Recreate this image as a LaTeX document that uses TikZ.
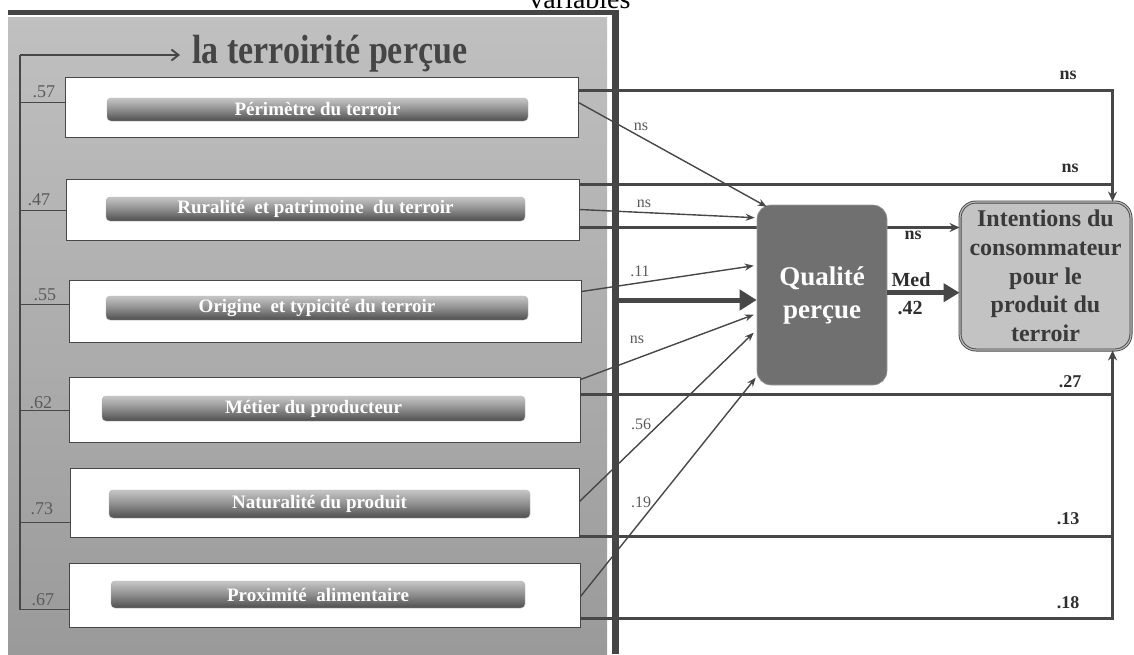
\documentclass[tikz,border=0pt]{standalone}
\usepackage{fontspec}
\setmainfont{Liberation Serif}
\usetikzlibrary{arrows.meta,calc}
\definecolor{frame}{HTML}{454545}
\definecolor{ln}{HTML}{474747}
\definecolor{lab}{HTML}{5A5A5A}
\definecolor{qual}{HTML}{707070}
\definecolor{intent}{HTML}{C3C3C3}
\definecolor{intxt}{HTML}{3A3A3A}
\definecolor{pantop}{HTML}{C0C0C0}
\definecolor{panbot}{HTML}{9A9A9A}
\definecolor{bartop}{HTML}{C6C6C6}
\definecolor{barmid}{HTML}{8E8E8E}
\definecolor{barbot}{HTML}{4E4E4E}
\definecolor{darklab}{HTML}{2E2E2E}
\newcommand{\fsz}[1]{\fontsize{#1}{#1}\selectfont}
\begin{document}
\begin{tikzpicture}[x=1pt,y=-1pt,
  factor/.style={draw=ln, line width=1pt, fill=white, rectangle, inner sep=0pt},
  barbox/.style={rectangle, rounded corners=4pt, top color=bartop, bottom color=barbot, middle color=barmid, draw=gray!60, line width=0.4pt, text=white, font=\bfseries\fsz{19}, inner sep=0pt},
  loadlab/.style={anchor=base west, text=lab, font=\fsz{18}},
  spine/.style={draw=ln, line width=1.9pt},
  conn/.style={draw=ln, line width=2.5pt},
  connarr/.style={conn, -{Stealth[length=10pt,width=9pt]}},
  thinarr/.style={draw=ln, line width=1.4pt, -{Stealth[length=9pt,width=7pt]}},
  bigarr/.style={draw=ln, line width=5pt, -{Triangle[length=17pt,width=20pt]}},
  medarr/.style={draw=ln, line width=5pt, -{Triangle[length=16pt,width=18pt]}},
  boldlab/.style={text=darklab, font=\bfseries\fsz{18}},
  thinlab/.style={text=lab, font=\fsz{16}},
]
\useasboundingbox (0,0) rectangle (1134,654);
\node[anchor=base, font=\fsz{28}] (var) at (580,8) {variables};
% panel
\shade[top color=pantop, bottom color=panbot] (8,17) rectangle (607,654);
\fill[frame] (8,10) rectangle (619,15);
\fill[frame] (612,10) rectangle (619,654);
% title
\node[anchor=base west, text=frame, font=\bfseries\fsz{34}, inner sep=0pt] (title) at (192,63) {\scalebox{1}[1.2]{la terroirité perçue}};
% spine
\coordinate (sp) at (20,55);
\coordinate (spb) at (20,610);
\draw[spine] (spb) -- (sp);
\draw[ln, line width=1.9pt, -{Straight Barb[length=7pt,width=11pt]}] (sp) -- ++(160,0);
% factor boxes
\node[factor, minimum width=513pt, minimum height=60pt] (f1) at (321.5,107) {};
\node[factor, minimum width=513pt, minimum height=61pt] (f2) at (322.5,209.5) {};
\node[factor, minimum width=512pt, minimum height=62pt] (f3) at (325,311) {};
\node[factor, minimum width=511pt, minimum height=65pt] (f4) at (324.5,409.5) {};
\node[factor, minimum width=509pt, minimum height=69pt] (f5) at (324.5,502.5) {};
\node[factor, minimum width=511pt, minimum height=64pt] (f6) at (324.5,595) {};
% bars
\node[barbox, minimum width=421pt, minimum height=23pt] (b1) at (317.5,109.5) {Périmètre du terroir};
\node[barbox, minimum width=419pt, minimum height=24pt] (b2) at (315.5,209) {Ruralité\ \ et patrimoine\ \ du terroir};
\node[barbox, minimum width=422pt, minimum height=24pt] (b3) at (317,308) {Origine\ \ et typicité du terroir};
\node[barbox, minimum width=423pt, minimum height=25pt] (b4) at (313.5,408.5) {Métier du producteur};
\node[barbox, minimum width=421pt, minimum height=28pt] (b5) at (319.5,504) {Naturalité du produit};
\node[barbox, minimum width=414pt, minimum height=27pt] (b6) at (318,594.5) {Proximité\ \ alimentaire};
% loading connectors
\coordinate (l1) at ($(f1.north west)+(0,26)$);
\coordinate (l2) at ($(f2.north west)+(0,32)$);
\coordinate (l3) at ($(f3.north west)+(0,25)$);
\coordinate (l4) at ($(f4.north west)+(0,34)$);
\coordinate (l5) at ($(f5.north west)+(0,55)$);
\coordinate (l6) at ($(f6.north west)+(0,47)$);
\foreach \c in {l1,l2,l3,l4,l5,l6} {\draw[spine] (\c) -- (\c -| sp);}
\node[loadlab] (k1) at (29,97) {.57};
\node[loadlab] (k2) at (24,205) {.47};
\node[loadlab] (k3) at (30,300) {.55};
\node[loadlab] (k4) at (26,408) {.62};
\node[loadlab] (k5) at (27,514) {.73};
\node[loadlab] (k6) at (28,605) {.67};
% Intentions
\node[rectangle, rounded corners=16pt, fill=intent, draw=ln, double=gray!55, double distance=1.2pt, line width=0.9pt, minimum width=171pt, minimum height=148pt, inner sep=0pt, align=center, text=intxt, font=\bfseries\fontsize{24}{28.7}\selectfont] (int) at (1045.5,276) {Intentions du\\consommateur\\pour le\\produit du\\terroir};
% direct effects
\coordinate (jx) at ($(int.north west)+(153,0)$);
\coordinate (jb) at ($(int.south west)+(153,0)$);
\coordinate (s1) at ($(f1.north east)+(0,14)$);
\draw[connarr] (s1) -| (jx);
\coordinate (s2) at ($(f2.north east)+(0,6)$);
\draw[conn] (s2) -- (s2 -| jx);
\coordinate (s3) at ($(f2.north east)+(0,49)$);
\draw[connarr] (s3) -- (s3 -| int.west);
\coordinate (s9) at ($(f4.north east)+(0,18)$);
\draw[conn] (s9) -- (s9 -| jb);
\coordinate (s12) at ($(f5.south east)+(0,-1)$);
\draw[conn] (s12) -- (s12 -| jb);
\coordinate (s13) at ($(f6.north east)+(0,56)$);
\draw[connarr] (s13) -| (jb);
% Qualite
\node[rectangle, rounded corners=14pt, fill=qual, draw=gray!75, line width=0.6pt, minimum width=130pt, minimum height=180pt, inner sep=0pt, align=center, text=white, font=\bfseries\fontsize{27}{33}\selectfont] (qual) at (822,295) {Qualité\\perçue};
% indirect effects
\draw[thinarr] ($(f1.north east)+(0,26)$) -- ($(qual.north west)+(10,2)$);
\draw[thinarr] ($(f2.north east)+(0,31)$) -- ($(qual.north west)+(-2,13)$);
\draw[thinarr] ($(f3.north east)+(0,12)$) -- ($(qual.north west)+(-3,61)$);
\coordinate (barpt) at (619,300);
\draw[bigarr] (barpt) -- (barpt -| qual.west);
\draw[thinarr] ($(f4.north east)+(0,3)$) -- ($(qual.north west)+(-3,110)$);
\draw[thinarr] ($(f5.north east)+(0,34)$) -- ($(qual.north west)+(-3,128)$);
\draw[thinarr] ($(f6.north east)+(0,34)$) -- ($(qual.north west)+(-1,173)$);
\coordinate (m) at ($(qual.north east)+(0,88)$);
\draw[medarr] (m) -- (m -| int.west);
% labels
\node[boldlab] (n1) at (1068,75) {ns};
\node[boldlab] (n2) at (1070,168) {ns};
\node[boldlab] (n3) at (913,235) {ns};
\node[boldlab] (r27) at (1070,382) {.27};
\node[boldlab] (r13) at (1068,519) {.13};
\node[boldlab] (r18) at (1068,603) {.18};
\node[text=darklab, font=\bfseries\fsz{20}] (med) at (911,280) {Med};
\node[text=darklab, font=\bfseries\fsz{20}] (m42) at (910,308) {.42};
\node[thinlab] (t1) at (641,127) {ns};
\node[thinlab] (t2) at (644,204) {ns};
\node[thinlab] (t3) at (640,271) {.11};
\node[thinlab] (t4) at (637,340) {ns};
\node[thinlab] (t5) at (641,424) {.56};
\node[thinlab] (t6) at (641,502) {.19};
\end{tikzpicture}
\end{document}
